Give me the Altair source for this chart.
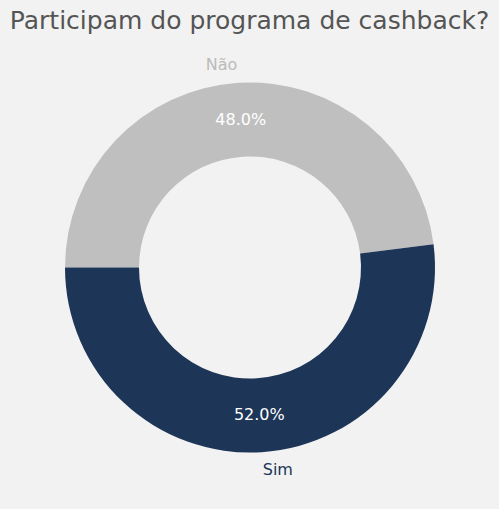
import math
import altair as alt
import pandas as pd

categories = ["Não", "Sim"]
values = [48.0, 52.0]
colors = ["#bfbfbf", "#1d3557"]
label_colors = ["#bbbbbb", "#1d3557"]

df = pd.DataFrame({
    "cat": categories,
    "val": values,
    "order": [0, 1],
    "pct": [f"{v:.1f}%" for v in values],
})

CX, CY = 250, 227.5
R_OUT, R_IN = 185, 111
start = 3 * math.pi / 2

theta = alt.Theta("val:Q", stack=True, scale=alt.Scale(range=[start, start + 2 * math.pi]))
order = alt.Order("order:Q")

base = alt.Chart(df).encode(theta=theta, order=order)

arcs = base.mark_arc(outerRadius=R_OUT, innerRadius=R_IN, stroke=None).encode(
    x=alt.value(CX), y=alt.value(CY),
    color=alt.Color("cat:N", scale=alt.Scale(domain=categories, range=colors), legend=None),
)

pct = base.mark_text(radius=148, fontSize=16, font="DejaVu Sans", color="white",
                     align="center", baseline="middle").encode(
    x=alt.value(CX), y=alt.value(CY), text="pct:N")

lab_nao = base.mark_text(radius=203, fontSize=16, font="DejaVu Sans", align="right",
                         baseline="middle", color=label_colors[0]).encode(
    x=alt.value(CX), y=alt.value(CY), text="cat:N",
    opacity=alt.condition(alt.datum.cat == "Não", alt.value(1), alt.value(0)))

lab_sim = base.mark_text(radius=203, fontSize=16, font="DejaVu Sans", align="left",
                         baseline="middle", color=label_colors[1]).encode(
    x=alt.value(CX), y=alt.value(CY), text="cat:N",
    opacity=alt.condition(alt.datum.cat == "Sim", alt.value(1), alt.value(0)))

chart = alt.layer(arcs, pct, lab_nao, lab_sim).properties(
    width=499, height=469,
    autosize=alt.AutoSizeParams(type="none"),
    padding={"top": 40, "left": 0, "right": 0, "bottom": 0},
    background="#f2f2f2",
    title=alt.Title("Participam do programa de cashback?", fontSize=25, font="DejaVu Sans",
                    fontWeight="normal", color="#555555", anchor="middle", offset=6),
).configure_view(stroke=None)

chart.save("out.html", embed_options={"renderer": "svg", "actions": False})
